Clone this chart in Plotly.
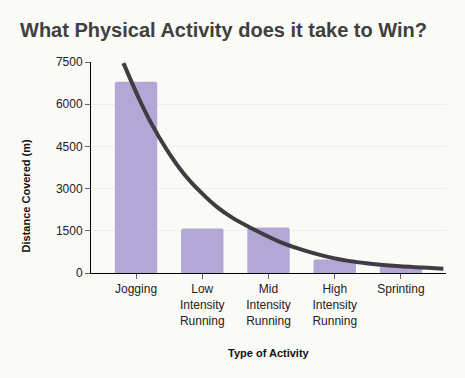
import plotly.graph_objects as go

# Data
categories = ["Jogging", "Low<br>Intensity<br>Running", "Mid<br>Intensity<br>Running",
              "High<br>Intensity<br>Running", "Sprinting"]
distance_m = [6800, 1580, 1620, 480, 240]

# Trend curve (category position -> distance)
curve_x = [-0.19, 0.04, 0.216, 0.468, 0.718, 0.97, 1.22, 1.47, 1.72,
           2.18, 2.5, 2.98, 3.48, 3.99, 4.64]
curve_y = [7460, 6220, 5380, 4370, 3540, 2890, 2350, 1940, 1620,
           1100, 830, 530, 345, 240, 155]

y_ticks = [0, 1500, 3000, 4500, 6000, 7500]

FONT = "Liberation Sans, Arial, sans-serif"
BG = "#fafaf6"

fig = go.Figure()
fig.add_trace(go.Bar(
    x=list(range(len(categories))), y=distance_m, width=0.64,
    marker=dict(color="#b3a7d6", line=dict(width=0), cornerradius=2),
    hoverinfo="skip", showlegend=False,
))
fig.add_trace(go.Scatter(
    x=curve_x, y=curve_y, mode="lines",
    line=dict(color="#3f3c43", width=4, shape="spline", smoothing=0.6),
    hoverinfo="skip", showlegend=False,
))

fig.update_layout(
    width=465, height=378,
    margin=dict(l=91, r=19, t=62, b=105),
    paper_bgcolor=BG, plot_bgcolor=BG,
    font=dict(family=FONT, size=12, color="#333333"),
    title=dict(text="What Physical Activity does it take to Win?",
               font=dict(family=FONT, size=20, color="#404040", weight="bold"),
               x=20 / 465, xref="container", xanchor="left",
               y=1 - 30 / 378, yref="container", yanchor="middle"),
    xaxis=dict(range=[-0.68, 4.68], tickvals=list(range(len(categories))),
               ticktext=categories, showgrid=False, zeroline=False,
               showline=True, linecolor="#000000", linewidth=1,
               ticks="outside", ticklen=5, tickcolor="#666666",
               tickfont=dict(size=12, color="#222222")),
    yaxis=dict(range=[0, 7500], tickvals=y_ticks, showgrid=True,
               gridcolor="#eeeeee", gridwidth=1, zeroline=False,
               showline=True, linecolor="#000000", linewidth=1,
               ticks="outside", ticklen=5, tickcolor="#666666",
               tickfont=dict(size=12, color="#222222")),
    annotations=[
        dict(text="Distance Covered (m)", xref="paper", yref="paper",
             x=(26 - 90.7) / 355.3, y=(272.7 - 196) / 210.4, textangle=-90,
             showarrow=False, xanchor="center", yanchor="middle",
             font=dict(family=FONT, size=11, color="#111111", weight="bold")),
        dict(text="Type of Activity", xref="paper", yref="paper",
             x=0.5, y=(272.7 - 352) / 210.4,
             showarrow=False, xanchor="center", yanchor="middle",
             font=dict(family=FONT, size=11, color="#111111", weight="bold")),
    ],
)

fig.write_html("out.html", config={"displayModeBar": False},
               post_script="document.body.style.margin='0';document.body.style.background='%s';" % BG)
